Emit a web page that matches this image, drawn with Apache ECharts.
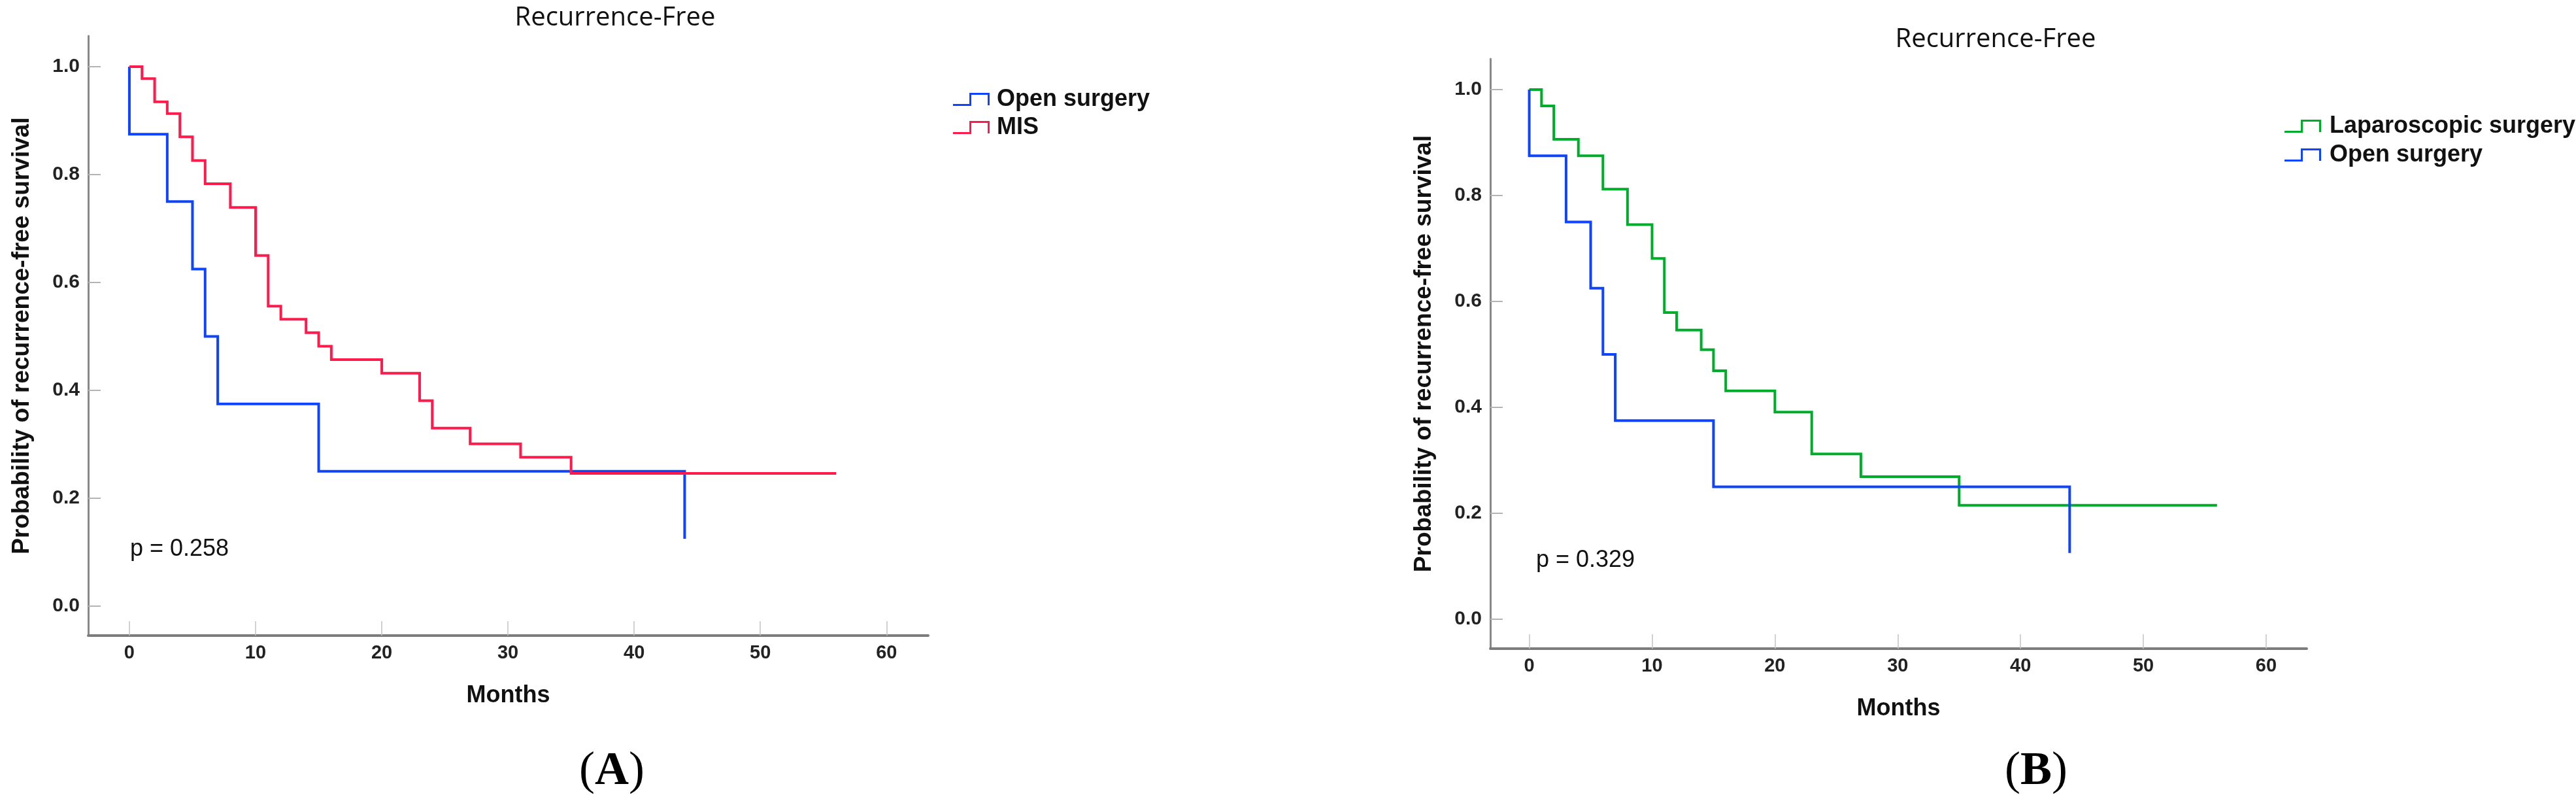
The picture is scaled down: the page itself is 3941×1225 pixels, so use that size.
<!DOCTYPE html>
<html><head><meta charset="utf-8">
<script src="https://cdn.jsdelivr.net/npm/echarts@6/dist/echarts.min.js"></script>
<style>html,body{margin:0;padding:0;background:#fff}#c{width:3941px;height:1225px}</style>
</head><body><div id="c"></div>
<script>
// ---- data ----
const monthTicks = [0, 10, 20, 30, 40, 50, 60];
const survTicks = [0, 0.2, 0.4, 0.6, 0.8, 1.0];

// Open surgery (same curve in both panels)
const monthsOpen = [0, 0, 3, 5, 6, 7, 15, 44];
const survOpen   = [1, 0.875, 0.75, 0.625, 0.5, 0.375, 0.25, 0.125];

// MIS (panel A)
const monthsMIS = [0, 1, 2, 3, 4, 5, 6, 8, 10, 11, 12, 14, 15, 16, 20, 23, 24, 27, 31, 35, 56];
const survMIS   = [1, 0.978, 0.935, 0.913, 0.870, 0.826, 0.783, 0.739, 0.650, 0.556, 0.532, 0.507, 0.482, 0.457, 0.432, 0.381, 0.330, 0.301, 0.276, 0.246, 0.246];

// Laparoscopic surgery (panel B)
const monthsLap = [0, 1, 2, 4, 6, 8, 10, 11, 12, 14, 15, 16, 20, 23, 27, 35, 56];
const survLap   = [1, 0.969, 0.906, 0.875, 0.812, 0.745, 0.681, 0.579, 0.546, 0.509, 0.469, 0.431, 0.391, 0.312, 0.269, 0.215, 0.215];

const panelTitle = 'Recurrence-Free';
const xName = 'Months';
const yName = 'Probability of recurrence-free survival';
const pA = 'p = 0.258';
const pB = 'p = 0.329';

// ---- styling ----
const BLUE = '#0f44ff', RED = '#ff1a4c', GREEN = '#00ad2b';
const SANS = "'Liberation Sans', Arial, Helvetica, sans-serif";
const STEP_ICON = 'path://M0,17 L25,17 L25,0 L56,0 L56,19 L53,19 L53,3 L28,3 L28,20 L0,20 Z';
const pairs = (xs, ys) => xs.map((x, i) => [x, ys[i]]);

function xAxis(gridIndex, min, max) {
  return {
    type: 'value', gridIndex, min, max,
    name: xName, nameLocation: 'middle', nameGap: 74,
    nameTextStyle: { fontFamily: SANS, fontSize: 36, fontWeight: 'bold', color: '#111' },
    axisLine: { onZero: false, lineStyle: { color: '#7c7c7c', width: 4 } },
    axisTick: { inside: true, length: 22, customValues: monthTicks, lineStyle: { color: '#c4c4c4', width: 1.5 } },
    axisLabel: { customValues: monthTicks, margin: 12, fontFamily: SANS, fontSize: 29, fontWeight: 'bold', color: '#222' },
    splitLine: { show: false }
  };
}
function yAxis(gridIndex, min, max) {
  return {
    type: 'value', gridIndex, min, max,
    name: yName, nameLocation: 'middle', nameGap: 83,
    nameTextStyle: { fontFamily: SANS, fontSize: 37, fontWeight: 'bold', color: '#111' },
    axisLine: { onZero: false, lineStyle: { color: '#888888', width: 3 } },
    axisTick: { inside: true, length: 19, customValues: survTicks, lineStyle: { color: '#b4b4b4', width: 2 } },
    axisLabel: { customValues: survTicks, margin: 13, fontFamily: SANS, fontSize: 30, fontWeight: 'bold', color: '#222',
                 formatter: v => Number(v).toFixed(1) },
    splitLine: { show: false }
  };
}
function km(name, xs, ys, color, idx, z) {
  return {
    name, type: 'line', step: 'end', xAxisIndex: idx, yAxisIndex: idx,
    data: pairs(xs, ys), symbol: 'none', z,
    lineStyle: { color, width: 4, cap: 'butt', join: 'miter' },
    itemStyle: { color }
  };
}
function legend(left, top, names, gap, pad) {
  return {
    orient: 'vertical', left, top, data: names, icon: STEP_ICON,
    itemWidth: 56, itemHeight: 20, itemGap: gap, selectedMode: false,
    itemStyle: { borderWidth: 0 },
    textStyle: { fontFamily: SANS, fontSize: 36, fontWeight: 'bold', color: '#111', padding: [0, 0, 0, pad] }
  };
}
function txt(x, y, text, size, align, weight, family) {
  return { type: 'text', x, y, silent: true,
    style: { text, fontSize: size, fontFamily: family || SANS, fontWeight: weight || 'normal',
             fill: '#111', align, verticalAlign: 'middle' } };
}
function panelLabel(x, y, letter) {
  return { type: 'text', x, y, silent: true,
    style: { text: '{p|(}{b|' + letter + '}{p|)}', align: 'center', verticalAlign: 'middle',
      rich: {
        p: { fontFamily: "'Liberation Serif','Times New Roman',serif", fontSize: 72, fill: '#000' },
        b: { fontFamily: "'Liberation Serif','Times New Roman',serif", fontSize: 72, fontWeight: 'bold', fill: '#000' }
      } } };
}

const chart = echarts.init(document.getElementById('c'), null, { renderer: 'canvas' });
chart.setOption({
  backgroundColor: '#fff',
  animation: false,
  grid: [
    { left: 135, top: 55, width: 1285, height: 917 },
    { left: 2280, top: 90, width: 1249, height: 902 }
  ],
  xAxis: [ xAxis(0, -3.26, 63.3), xAxis(1, -3.17, 63.3) ],
  yAxis: [ yAxis(0, -0.0545, 1.057), yAxis(1, -0.0556, 1.058) ],
  legend: [
    legend(1453, 129, ['Open surgery', 'MIS'], 7, 6),
    legend(3490, 170, ['Laparoscopic surgery', 'Open surgery'], 8, 8)
  ],
  series: [
    km('Open surgery', monthsOpen, survOpen, BLUE, 0, 2),
    km('MIS', monthsMIS, survMIS, RED, 0, 3),
    km('Laparoscopic surgery', monthsLap, survLap, GREEN, 1, 2),
    km('Open surgery', monthsOpen, survOpen, BLUE, 1, 3)
  ],
  graphic: [
    txt(941, 28, panelTitle, 40, 'center', 'normal', "'Open Sans', sans-serif"),
    txt(3053, 61, panelTitle, 40, 'center', 'normal', "'Open Sans', sans-serif"),
    txt(199, 840, pA, 36, 'left'),
    txt(2350, 857, pB, 36, 'left'),
    panelLabel(936, 1180, 'A'),
    panelLabel(3115, 1180, 'B')
  ]
});
</script></body></html>
